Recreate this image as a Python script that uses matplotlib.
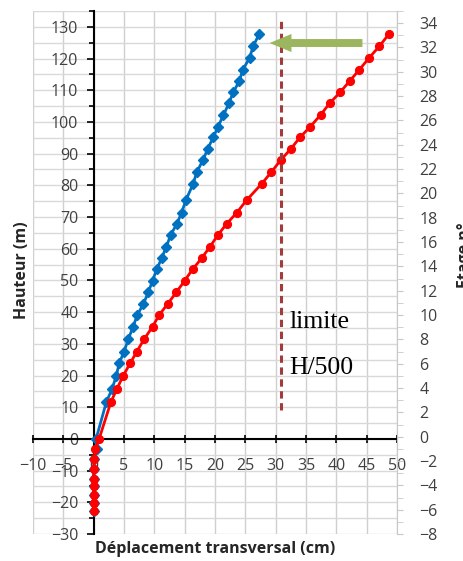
import matplotlib.pyplot as plt
import matplotlib.patches as mpatches
from matplotlib.ticker import MultipleLocator

plt.rcParams['font.family'] = ['Open Sans', 'DejaVu Sans']

# hauteurs des niveaux (m)
hauteur = [-22.9, -20.2, -17.7, -15.0, -12.5, -9.6, -6.4, -3.2, 0.0,
           11.7, 15.6, 19.7, 23.8, 27.5, 31.4, 35.4, 39.1, 42.6, 46.2,
           49.9, 53.5, 57.0, 60.7, 64.4, 67.8, 71.4, 75.3,
           80.5, 84.2, 87.9, 91.5, 95.1, 98.5, 102.2, 105.9, 109.3, 112.9,
           116.5, 120.2, 123.9, 127.8]

# deplacements (cm)
depl_bleu = [0.0, 0.0, 0.0, 0.0, 0.0, 0.0, 0.1, 0.6, 0.4,
             2.1, 3.0, 3.7, 4.2, 5.0, 5.7, 6.5, 7.2, 8.2, 9.0,
             9.7, 10.4, 11.2, 12.0, 12.7, 13.7, 14.5, 15.2,
             16.4, 17.0, 18.0, 18.8, 19.7, 20.5, 21.4, 22.3, 23.0, 24.0,
             24.6, 25.7, 26.3, 27.3]
depl_rouge = [0.0, 0.0, 0.0, 0.0, 0.0, 0.0, 0.1, 0.3, 0.9,
              2.85, 3.8, 4.8, 6.0, 7.1, 8.3, 9.7, 10.8, 12.2, 13.6,
              15.0, 16.3, 17.8, 19.2, 20.5, 21.9, 23.6, 25.2,
              27.7, 29.3, 30.8, 32.5, 34.0, 35.7, 37.4, 38.9, 40.6, 42.2,
              43.8, 45.4, 47.1, 48.7]

limite_x = 30.8
limite_y = [9, 133]

W, H = 464, 561
fig = plt.figure(figsize=(W / 100, H / 100), dpi=100)
ax = fig.add_axes([33 / W, 1 - 534 / H, (397 - 33) / W, (534 - 11) / H])

ax.set_xlim(-10, 50)
ax.set_ylim(-30, 135)

# grille
ax.xaxis.set_major_locator(MultipleLocator(5))
ax.yaxis.set_major_locator(MultipleLocator(10))
ax.yaxis.set_minor_locator(MultipleLocator(5))
ax.grid(which='both', axis='y', color='#d9d9d9', lw=1.0)
ax.grid(which='major', axis='x', color='#cfcfcf', lw=1.0)
ax.set_axisbelow(True)

# axes au centre
ax.spines['left'].set_position(('data', 0))
ax.spines['bottom'].set_position(('data', 0))
ax.spines['top'].set_visible(False)
ax.spines['right'].set_visible(False)
ax.spines['left'].set_color('black')
ax.spines['bottom'].set_color('black')
ax.spines['left'].set_linewidth(1.5)
ax.spines['bottom'].set_linewidth(1.5)

ax.tick_params(axis='x', direction='inout', length=6, width=1.2, pad=11,
               labelsize=11.5, labelcolor='#404040')
ax.tick_params(axis='y', which='major', direction='out', length=5, width=1.2,
               pad=6, labelsize=11.5, labelcolor='#404040')
ax.tick_params(axis='y', which='minor', direction='out', length=3.5, width=1.2)
ax.set_yticks(range(-30, 131, 10))

# courbes
ax.plot(depl_bleu, hauteur, color='#0070c0', lw=2.0, marker='D', ms=5.2,
        zorder=3)
ax.plot(depl_rouge, hauteur, color='#ff0000', lw=2.0, marker='o', ms=5.6,
        zorder=3)

# limite H/500
ax.plot([limite_x, limite_x], limite_y, color='#a23b3b', lw=2.2,
        dashes=(2.4, 1.5), solid_capstyle='butt', dash_capstyle='butt',
        zorder=4)
ax.text(32.3, 37.0, 'limite', family='Liberation Serif', fontsize=18.5,
        ha='left', va='center')
ax.text(32.3, 22.4, 'H/500', family='Liberation Serif', fontsize=18.5,
        ha='left', va='center')

# fleche
fleche = mpatches.FancyArrow(44.3, 124.9, -15.3, 0, width=2.5, head_width=5.7,
                             head_length=3.6, length_includes_head=True,
                             color='#9bb65f', lw=0, zorder=5)
ax.add_patch(fleche)

# axe secondaire : etages
ax2 = ax.twinx()
ax2.set_ylim(-8, 35)
ax2.yaxis.set_major_locator(MultipleLocator(2))
ax2.yaxis.set_minor_locator(MultipleLocator(1))
ax2.set_yticks(range(-8, 35, 2))
for s in ['top', 'left', 'bottom']:
    ax2.spines[s].set_visible(False)
ax2.spines['right'].set_color('#c8c8c8')
ax2.tick_params(axis='y', which='both', direction='out', length=4,
                color='#c8c8c8', pad=12, labelsize=11.5, labelcolor='#404040')

fig.text(22 / W, 1 - 270 / H, 'Hauteur (m)', rotation=90, ha='center',
         va='center', fontsize=11.5, fontweight='bold', color='#262626')
fig.text(215 / W, 1 - 549 / H, 'Déplacement transversal (cm)', ha='center',
         va='center', fontsize=11.5, fontweight='bold', color='#262626')
fig.text(457 / W, 1 - 255 / H, 'Etage n°', rotation=90, ha='left',
         va='center', fontsize=11.5, fontweight='bold', color='#262626')

fig.savefig('out.png', dpi=100)
